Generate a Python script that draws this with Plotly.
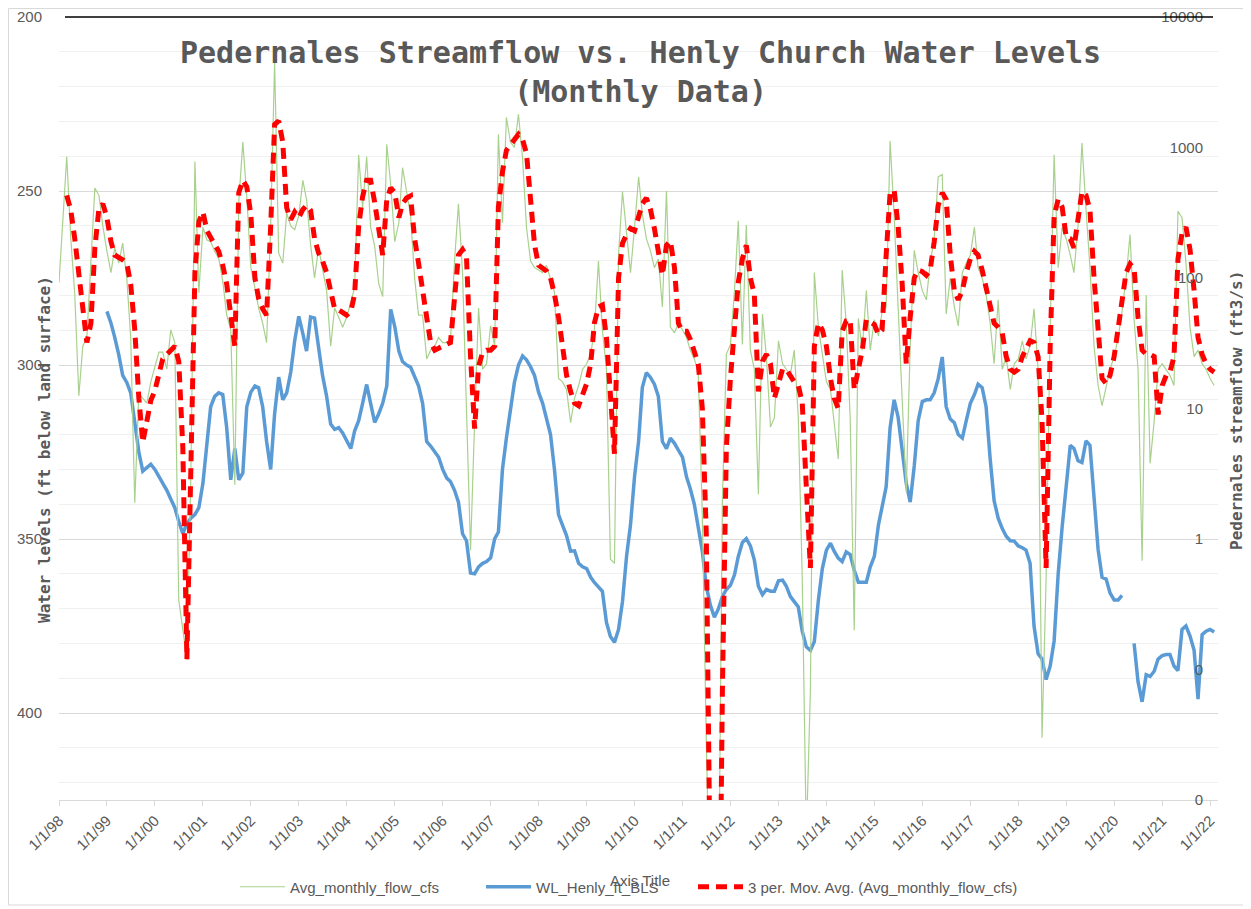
import pandas as pd
import plotly.graph_objects as go

# ---------------- data (monthly, Jan 1998 .. Feb 2022) ----------------
START = "1998-01-01"
N_MONTHS = 290

FLOW_CFS = [
    92, 300, 850, 200, 75, 12.5, 30, 35, 150, 490, 430, 250,          # 1998
    160, 110, 170, 130, 185, 100, 35, 1.9, 13, 12, 11, 16,            # 1999
    21, 27, 27, 20, 40, 32, 0.34, 0.2, 0.12, 3, 780, 77,              # 2000
    245, 195, 190, 160, 142, 95, 52, 40, 2.6, 385, 1100, 420,         # 2001
    120, 84, 59, 45, 32, 250, 4500, 155, 130, 315, 250, 235,          # 2002
    300, 560, 400, 180, 100, 170, 120, 80, 30, 59, 50, 42,            # 2003
    50, 65, 84, 880, 345, 850, 245, 175, 90, 72, 1060, 520,           # 2004
    190, 265, 700, 460, 305, 100, 52, 52, 24, 28, 30, 35,             # 2005
    32, 32, 33, 135, 370, 110, 10, 0.82, 8, 59, 20, 22,               # 2006
    43, 30, 1260, 265, 1700, 1100, 1000, 1800, 830, 245, 135, 120,    # 2007
    115, 110, 125, 100, 78, 17, 16, 14, 7.8, 12, 15, 20,              # 2008
    22, 26, 40, 135, 40, 20, 0.7, 0.65, 150, 460, 215, 110,           # 2009
    245, 595, 310, 200, 163, 120, 140, 60, 465, 42, 38, 45,           # 2010
    40, 35, 28, 24, 19, 1.5, 0.03, 0.001, 0.001, 0.001, 2, 26,        # 2011
    31, 80, 275, 31, 255, 28, 20, 2.2, 53, 25, 7.2, 8.5,              # 2012
    33, 22, 20, 18, 28, 8.5, 0.5, 0.005, 0.069, 110, 42, 25,          # 2013
    16, 14, 8, 4.1, 115, 45, 8.5, 0.2, 49, 28, 80, 28,                # 2014
    48, 36, 55, 60, 1120, 300, 60, 10, 2.3, 30, 163, 110,             # 2015
    80, 68, 130, 200, 595, 620, 53, 100, 60, 43, 110, 130,            # 2016
    150, 245, 120, 100, 75, 45, 22, 68, 20, 25, 14, 22,               # 2017
    24, 33, 24, 30, 58, 20, 0.03, 0.5, 42, 880, 120, 245,             # 2018
    200, 150, 110, 250, 1080, 335, 120, 30, 15, 10.5, 15, 20,         # 2019
    25, 35, 55, 100, 215, 48, 20, 0.68, 74, 3.8, 8, 20,               # 2020
    22, 20, 18, 15, 325, 290, 130, 42, 25, 28, 22, 20,                # 2021
    17, 15,                                                           # 2022
]

MOV_AVG_CFS = [
    None, None, 430, 330, 200, 110, 52, 32, 45, 170, 340, 370,        # 1998
    290, 190, 150, 145, 138, 130, 90, 40, 12, 5.5, 8.5, 11.5,         # 1999
    13.7, 19, 24, 26, 28, 30, 23, 5, 0.12, 3, 110, 270,               # 2000
    320, 230, 200, 180, 160, 125, 90, 55, 30, 450, 560, 500,          # 2001
    305, 100, 70, 58, 52, 250, 1500, 1600, 1100, 345, 280, 320,       # 2002
    290, 335, 360, 330, 200, 155, 135, 110, 80, 58, 57, 54,           # 2003
    52, 55, 75, 250, 420, 560, 560, 380, 220, 150, 400, 490,          # 2004
    450, 290, 370, 410, 425, 200, 130, 85, 50, 32, 28, 29,            # 2005
    30, 31, 32, 70, 150, 165, 145, 25, 7, 21, 27, 28,                 # 2006
    28, 30, 350, 650, 950, 1050, 1150, 1260, 1150, 900, 400, 180,     # 2007
    125, 118, 113, 100, 75, 50, 29, 18, 13.5, 11, 10.5, 13,           # 2008
    15.5, 22, 45, 60, 62, 35, 12, 4.5, 100, 185, 215, 240,            # 2009
    230, 310, 370, 410, 340, 240, 160, 105, 178, 192, 120, 45,        # 2010
    39, 39, 34, 28, 22, 10, 1.1, 0.002, 0.0001, 0.0001, 0.07, 5,      # 2011
    17, 40, 93, 140, 178, 100, 75, 13.5, 23, 26, 22, 12,              # 2012
    16, 20, 20, 18, 16, 15, 11, 2.5, 0.6, 30, 45, 40,                 # 2013
    30, 17, 12, 10, 39, 47, 48, 14, 19, 28, 48, 46,                   # 2014
    44, 37, 40, 150, 450, 470, 250, 90, 22, 50, 100, 115,             # 2015
    112, 105, 115, 190, 360, 450, 400, 150, 80, 68, 80, 110,          # 2016
    140, 160, 150, 115, 85, 60, 45, 42, 38, 25, 20, 19,               # 2017
    20, 25, 28, 33, 32, 25, 8, 0.6, 30, 300, 400, 350,                # 2018
    205, 200, 170, 280, 460, 430, 330, 100, 35, 17, 15.5, 18,         # 2019
    25, 40, 60, 110, 128, 118, 50, 28, 26, 26, 25, 9,                 # 2020
    15, 18, 19, 25, 140, 220, 245, 165, 80, 35, 26, 22,               # 2021
    20, 19,                                                           # 2022
]

WL_FT_BLS = [
    None, None, None, None, None, None, None, None, None, None, None, None,   # 1998
    284.6, 288, 292, 297, 303, 305, 308, 317, 325, 330.5, 329.5, 328.5,       # 1999
    330, 332, 334, 336, 338.5, 341, 345, 348.5, 345.5, 344, 343, 341,         # 2000
    334, 322, 312, 309, 308, 308.5, 318, 333, 324, 333, 331, 312,             # 2001
    307.8, 306, 306.5, 312, 322, 330, 314, 303.5, 310, 308, 302, 293,         # 2002
    286, 291, 296, 286.2, 286.5, 295, 303, 309, 317, 318.5, 318, 319.5,       # 2003
    322, 324, 319, 316, 311, 305.6, 311, 316.5, 314, 311, 306, 284,           # 2004
    289, 296, 299, 300, 300.6, 303.5, 306, 311, 322, 323.3, 325, 326.5,       # 2005
    330, 332.5, 333.5, 336, 339.4, 348.5, 350.5, 359.8, 360, 358, 357, 356.5, # 2006
    355.4, 349.9, 348, 330, 321, 312, 305, 300, 297.4, 298.5, 300.5, 303,     # 2007
    307.8, 311, 315, 320, 330, 343, 346, 349, 353.5, 353.4, 357, 358,         # 2008
    358.5, 361, 362.5, 363.6, 365, 374, 378, 379.7, 376, 368, 355, 346,       # 2009
    332, 321.8, 306.5, 302.2, 303.5, 305.5, 309, 322, 324, 321, 322.5, 324.5, # 2010
    326.5, 332.2, 335.5, 340, 347, 353.5, 363.5, 369, 372.5, 370.1, 366.5, 364.5,  # 2011
    363.3, 360.3, 355, 351, 349.9, 352, 356, 363.6, 366, 364.5, 365, 365,     # 2012
    362, 361.8, 363.5, 366.5, 368, 369.5, 376.5, 381, 382, 379.5, 367.5, 358.5,    # 2013
    353.2, 351.2, 353.5, 355.5, 356.5, 353.7, 354.5, 359, 362.4, 362.4, 362.4, 358, # 2014
    355, 346, 341, 335, 318, 310, 315, 324, 334, 339.4, 329, 316,             # 2015
    310.5, 310, 310, 308, 304, 297.7, 312, 315.5, 316.6, 320, 321, 316,       # 2016
    311, 308.5, 305.5, 306.5, 312, 327, 339, 344, 347, 349.2, 350.5, 350.6,   # 2017
    352, 352.5, 353.2, 357, 375, 383, 384.5, 390.4, 386.5, 379.3, 360, 346.6, # 2018
    335, 323.1, 324, 327.5, 328, 321.8, 323.1, 337.5, 353, 361, 361.5, 365.5, # 2019
    367.5, 367.5, 366.2, None, None, 380, 391, 396.8, 389, 389.5, 388, 384.5, # 2020
    383.5, 383.2, 383.2, 386.5, 387.8, 376, 375, 377.9, 382, 396, 377.5, 376.5,    # 2021
    376, 376.7,                                                               # 2022
]

LEFT_TICKS = [200, 250, 300, 350, 400]
RIGHT_TICKVALS = [0.01, 0.1, 1, 10, 100, 1000, 10000]
RIGHT_TICKTEXT = ["0", "0", "1", "10", "100", "1000", "10000"]

TITLE = "Pedernales Streamflow vs. Henly Church Water Levels<br>(Monthly Data)"
LEFT_TITLE = "Water levels (ft below land surface)"
RIGHT_TITLE = "Pedernales streamflow (ft3/s)"

dates = pd.date_range(START, periods=N_MONTHS, freq="MS")

# ---------------- figure ----------------
GRAY = "#595959"
SANS = "Liberation Sans, Arial, sans-serif"
TICKFONT = dict(family=SANS, size=15, color=GRAY)
MONO = "DejaVu Sans Mono, Liberation Mono, monospace"

# the page body adds an 8 px margin; size the figure so it fills the window
OFF = 8
W, H = 1251 - OFF, 909 - OFF
L, T = 59 - OFF, 17 - OFF
R = W - (1218 - OFF)
B = H - (800 - OFF)
pw, ph = W - L - R, H - T - B


def px(xp):
    """window pixel x -> paper fraction"""
    return (xp - OFF - L) / pw


def py(yp):
    """window pixel y -> paper fraction"""
    return (H - B - (yp - OFF)) / ph


def legend_at(x_pix):
    return dict(orientation="h", xref="container", yref="container",
                x=(x_pix - OFF - 5) / W, xanchor="left",
                y=1 - (887 - OFF) / H, yanchor="middle",
                font=dict(family=SANS, size=15, color=GRAY),
                bgcolor="rgba(0,0,0,0)", borderwidth=0, itemwidth=45)


fig = go.Figure()
fig.add_trace(go.Scatter(
    x=dates, y=FLOW_CFS, name="Avg_monthly_flow_cfs", mode="lines", yaxis="y2",
    legend="legend", line=dict(color="#A9D18E", width=1.2)))
fig.add_trace(go.Scatter(
    x=dates, y=WL_FT_BLS, name="WL_Henly_ft_BLS", mode="lines", yaxis="y",
    legend="legend2", line=dict(color="#5B9BD5", width=3.5)))
fig.add_trace(go.Scatter(
    x=dates, y=MOV_AVG_CFS, name="3 per. Mov. Avg. (Avg_monthly_flow_cfs)",
    mode="lines", yaxis="y2", legend="legend3",
    line=dict(color="#FF0000", width=5, dash="11px,7px")))

fig.update_layout(
    width=W, height=H, autosize=False,
    margin=dict(l=L, r=R, t=T, b=B, autoexpand=False),
    paper_bgcolor="white", plot_bgcolor="white",
    showlegend=True,
    legend=legend_at(240),
    legend2=legend_at(486),
    legend3=legend_at(698),
    xaxis=dict(
        type="date", range=["1998-01-01", "2022-03-02"],
        tick0="1998-01-01", dtick="M12", tickformat="%-m/%-d/%y",
        tickangle=-45, ticks="outside", ticklen=5, tickcolor="#D9D9D9",
        showline=True, linecolor="#D9D9D9", linewidth=1, automargin=False,
        showgrid=False, zeroline=False, tickfont=TICKFONT),
    yaxis=dict(
        range=[425, 200], tickvals=LEFT_TICKS, showgrid=True,
        gridcolor="#D9D9D9", gridwidth=1, zeroline=False, showline=False,
        ticks="", tickfont=TICKFONT, ticklabelstandoff=16, automargin=False,
        minor=dict(tick0=200, dtick=10, showgrid=True, gridcolor="#F0F0F0", gridwidth=1)),
    yaxis2=dict(
        type="log", range=[-2, 4], overlaying="y", side="right",
        tickvals=RIGHT_TICKVALS, ticktext=RIGHT_TICKTEXT,
        ticklabelposition="inside", ticklabeloverflow="allow", automargin=False,
        showgrid=False, zeroline=False, showline=False, ticks="",
        tickfont=TICKFONT, ticklabelstandoff=12),
    shapes=[
        dict(type="line", xref="paper", yref="paper", x0=px(65), x1=px(1213),
             y0=1, y1=1, line=dict(color="black", width=1.5)),
        dict(type="rect", xref="paper", yref="paper", x0=px(8.5), x1=px(1246),
             y0=py(905), y1=py(8.5), line=dict(color="#D9D9D9", width=1),
             fillcolor="rgba(0,0,0,0)", layer="below"),
    ],
    annotations=[
        dict(text=TITLE, xref="paper", yref="paper", x=px(640), y=py(72),
             xanchor="center", yanchor="middle", showarrow=False,
             font=dict(family=MONO, size=30, color=GRAY, weight="bold")),
        dict(text=LEFT_TITLE, xref="paper", yref="paper", x=px(45), y=py(450),
             xanchor="center", yanchor="middle", textangle=-90, showarrow=False,
             font=dict(family=MONO, size=16, color=GRAY, weight="bold")),
        dict(text=RIGHT_TITLE, xref="paper", yref="paper", x=px(1237), y=py(411),
             xanchor="center", yanchor="middle", textangle=-90, showarrow=False,
             font=dict(family=MONO, size=16, color=GRAY, weight="bold")),
        dict(text="Axis Title", xref="paper", yref="paper", x=px(640), y=py(880),
             xanchor="center", yanchor="middle", showarrow=False,
             font=dict(family=SANS, size=15, color=GRAY)),
    ],
)

fig.write_html("out.html")
